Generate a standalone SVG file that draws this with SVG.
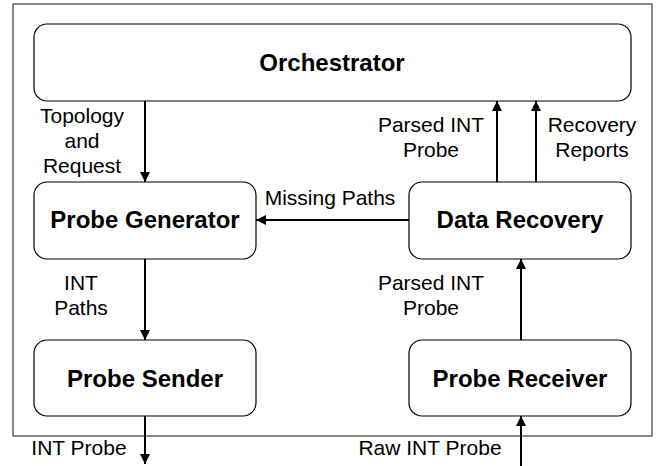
<svg xmlns="http://www.w3.org/2000/svg" width="670" height="466" viewBox="0 0 670 466">
  <defs>
    <marker id="arrow" viewBox="0 0 10 10" refX="10" refY="5" markerWidth="10" markerHeight="10" markerUnits="userSpaceOnUse" orient="auto">
      <path d="M0,0 L10,5 L0,10 z" fill="#000"/>
    </marker>
    <style>
      .frame { fill: #fff; stroke: #4d4d4d; stroke-width: 1.3; }
      .box { fill: #fff; stroke: #000; stroke-width: 1.2; }
      .title { font-family: "Liberation Sans", Arial, sans-serif; font-size: 24px; font-weight: bold; fill: #000; text-anchor: middle; }
      .label { font-family: "Liberation Sans", Arial, sans-serif; font-size: 21px; fill: #000; text-anchor: middle; }
      .edge { stroke: #000; stroke-width: 2; fill: none; marker-end: url(#arrow); }
    </style>
  </defs>

  <rect width="670" height="466" fill="#fff"/>
  <rect class="frame" x="13" y="4" width="639" height="432"/>

  <g id="orchestrator">
    <rect class="box" x="34" y="24" width="597" height="77" rx="13"/>
    <text class="title" x="332" y="71">Orchestrator</text>
  </g>
  <g id="probe-generator">
    <rect class="box" x="34" y="182" width="222" height="77" rx="13"/>
    <text class="title" x="145" y="228">Probe Generator</text>
  </g>
  <g id="data-recovery">
    <rect class="box" x="409" y="182" width="222" height="77" rx="13"/>
    <text class="title" x="520" y="228">Data Recovery</text>
  </g>
  <g id="probe-sender">
    <rect class="box" x="34" y="340" width="222" height="76" rx="13"/>
    <text class="title" x="145" y="387">Probe Sender</text>
  </g>
  <g id="probe-receiver">
    <rect class="box" x="409" y="340" width="222" height="76" rx="13"/>
    <text class="title" x="520" y="387">Probe Receiver</text>
  </g>

  <g id="connectors">
    <line class="edge" x1="145" y1="101" x2="145" y2="182"/>
    <line class="edge" x1="145" y1="259" x2="145" y2="340"/>
    <line class="edge" x1="145" y1="416" x2="145" y2="464"/>
    <line class="edge" x1="521" y1="466" x2="521" y2="416"/>
    <line class="edge" x1="521" y1="340" x2="521" y2="259"/>
    <line class="edge" x1="497" y1="182" x2="497" y2="101"/>
    <line class="edge" x1="536" y1="182" x2="536" y2="101"/>
    <line class="edge" x1="409" y1="220" x2="256" y2="220"/>
  </g>

  <g id="labels">
    <text class="label" x="82" y="123">Topology</text>
    <text class="label" x="82" y="148">and</text>
    <text class="label" x="82" y="173">Request</text>
    <text class="label" x="431" y="132">Parsed INT</text>
    <text class="label" x="431" y="157">Probe</text>
    <text class="label" x="592" y="132">Recovery</text>
    <text class="label" x="592" y="157">Reports</text>
    <text class="label" x="330" y="205">Missing Paths</text>
    <text class="label" x="81" y="290">INT</text>
    <text class="label" x="81" y="315">Paths</text>
    <text class="label" x="431" y="290">Parsed INT</text>
    <text class="label" x="431" y="315">Probe</text>
    <text class="label" x="79" y="455">INT Probe</text>
    <text class="label" x="430" y="455">Raw INT Probe</text>
  </g>
</svg>
